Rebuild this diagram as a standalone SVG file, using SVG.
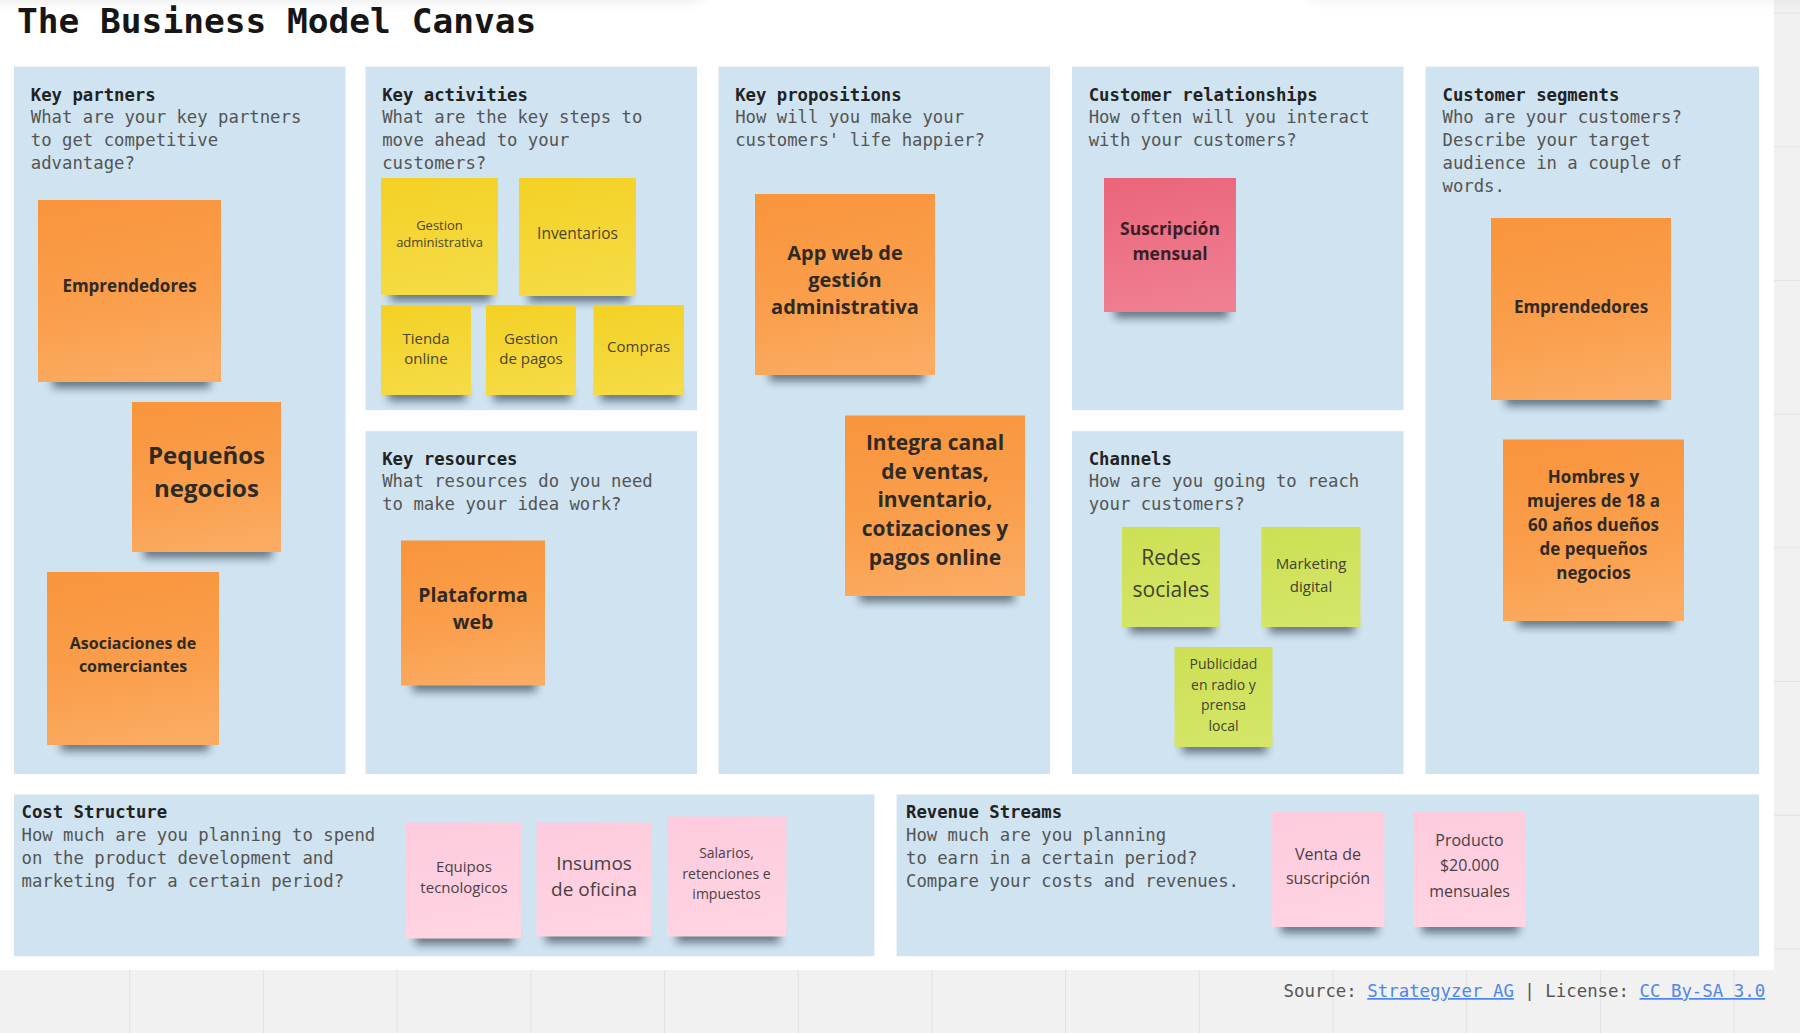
<svg xmlns="http://www.w3.org/2000/svg" width="1800" height="1033" viewBox="0 0 1800 1033">
<defs>
<style>
.panel{fill:#cfe3f0}
.h{font-family:"DejaVu Sans Mono","Liberation Mono",monospace;font-size:17.3px;font-weight:700;fill:#222}
.d{font-family:"DejaVu Sans Mono","Liberation Mono",monospace;font-size:17.3px;fill:#555}
.n{font-family:"Open Sans","Noto Sans",sans-serif;text-anchor:middle}
.b{font-weight:700}
.shd{fill:#0d1b2a;opacity:.55;filter:url(#blr)}
.grid{stroke:#e1e1e1;stroke-width:1}
.on{fill:#2e2a25}
.yn{fill:#4a4630}
.gn{fill:#3f4430}
.pn{fill:#4a4044}
</style>
<filter id="blr" x="-20%" y="-100%" width="140%" height="300%"><feGaussianBlur stdDeviation="4"/></filter>
<filter id="blr8" x="-20%" y="-100%" width="140%" height="300%"><feGaussianBlur stdDeviation="8"/></filter>
<linearGradient id="gO" x1="0.3" y1="0" x2="0.5" y2="1"><stop offset="0" stop-color="#f9953d"/><stop offset="0.6" stop-color="#fa9f4d"/><stop offset="1" stop-color="#fbab62"/></linearGradient>
<linearGradient id="gY" x1="0.3" y1="0" x2="0.5" y2="1"><stop offset="0" stop-color="#f3d126"/><stop offset="1" stop-color="#f5db45"/></linearGradient>
<linearGradient id="gR" x1="0.3" y1="0" x2="0.5" y2="1"><stop offset="0" stop-color="#ea667b"/><stop offset="1" stop-color="#f07f92"/></linearGradient>
<linearGradient id="gP" x1="0.3" y1="0" x2="0.5" y2="1"><stop offset="0" stop-color="#fdcbdd"/><stop offset="1" stop-color="#ffd4e3"/></linearGradient>
<linearGradient id="gG" x1="0.3" y1="0" x2="0.5" y2="1"><stop offset="0" stop-color="#cde055"/><stop offset="1" stop-color="#d5e568"/></linearGradient>
</defs>

<g id="background">
<rect x="0" y="0" width="1800" height="1033" fill="#f1f1f1"/>
<g class="grid">
<line x1="129.7" y1="0" x2="129.7" y2="1033"/><line x1="263.4" y1="0" x2="263.4" y2="1033"/><line x1="397.1" y1="0" x2="397.1" y2="1033"/><line x1="530.8" y1="0" x2="530.8" y2="1033"/><line x1="664.5" y1="0" x2="664.5" y2="1033"/><line x1="798.2" y1="0" x2="798.2" y2="1033"/><line x1="931.9" y1="0" x2="931.9" y2="1033"/><line x1="1065.6" y1="0" x2="1065.6" y2="1033"/><line x1="1199.3" y1="0" x2="1199.3" y2="1033"/><line x1="1333" y1="0" x2="1333" y2="1033"/><line x1="1466.7" y1="0" x2="1466.7" y2="1033"/><line x1="1600.4" y1="0" x2="1600.4" y2="1033"/><line x1="1734.1" y1="0" x2="1734.1" y2="1033"/>
<line x1="0" y1="13" x2="1800" y2="13"/><line x1="0" y1="146.7" x2="1800" y2="146.7"/><line x1="0" y1="280.4" x2="1800" y2="280.4"/><line x1="0" y1="414.1" x2="1800" y2="414.1"/><line x1="0" y1="547.8" x2="1800" y2="547.8"/><line x1="0" y1="681.5" x2="1800" y2="681.5"/><line x1="0" y1="815.2" x2="1800" y2="815.2"/><line x1="0" y1="948.9" x2="1800" y2="948.9"/>
</g>
<rect x="0" y="0" width="1774" height="970" fill="#ffffff"/>
<rect x="-40" y="-52" width="745" height="50" rx="14" fill="#000" opacity=".13" filter="url(#blr8)"/>
<rect x="1305" y="-52" width="540" height="48" rx="14" fill="#000" opacity=".12" filter="url(#blr8)"/>
</g>

<text id="title" x="17" y="33" font-family="DejaVu Sans Mono, Liberation Mono, monospace" font-size="34.5" font-weight="700" fill="#161616">The Business Model Canvas</text>

<g id="key-partners">
<rect class="panel" x="14" y="66.6" width="331.5" height="707.4"/>
<text class="h" x="30.8" y="100.7">Key partners</text>
<text class="d"><tspan x="30.8" y="123">What are your key partners</tspan><tspan x="30.8" y="146">to get competitive</tspan><tspan x="30.8" y="169">advantage?</tspan></text>
</g>
<g id="key-activities">
<rect class="panel" x="365.5" y="66.6" width="331.5" height="343.6"/>
<text class="h" x="382.2" y="100.7">Key activities</text>
<text class="d"><tspan x="382.2" y="123">What are the key steps to</tspan><tspan x="382.2" y="146">move ahead to your</tspan><tspan x="382.2" y="169">customers?</tspan></text>
</g>
<g id="key-resources">
<rect class="panel" x="365.5" y="431.2" width="331.5" height="342.8"/>
<text class="h" x="382.2" y="464.5">Key resources</text>
<text class="d"><tspan x="382.2" y="487">What resources do you need</tspan><tspan x="382.2" y="510">to make your idea work?</tspan></text>
</g>
<g id="key-propositions">
<rect class="panel" x="718.5" y="66.6" width="331.5" height="707.4"/>
<text class="h" x="735.2" y="100.7">Key propositions</text>
<text class="d"><tspan x="735.2" y="123">How will you make your</tspan><tspan x="735.2" y="146">customers' life happier?</tspan></text>
</g>
<g id="customer-relationships">
<rect class="panel" x="1072" y="66.6" width="331.5" height="343.6"/>
<text class="h" x="1088.7" y="100.7">Customer relationships</text>
<text class="d"><tspan x="1088.7" y="123">How often will you interact</tspan><tspan x="1088.7" y="146">with your customers?</tspan></text>
</g>
<g id="channels">
<rect class="panel" x="1072" y="431.2" width="331.5" height="342.8"/>
<text class="h" x="1088.7" y="464.5">Channels</text>
<text class="d"><tspan x="1088.7" y="487">How are you going to reach</tspan><tspan x="1088.7" y="510">your customers?</tspan></text>
</g>
<g id="customer-segments">
<rect class="panel" x="1425.5" y="66.6" width="333.5" height="707.4"/>
<text class="h" x="1442.5" y="100.7">Customer segments</text>
<text class="d"><tspan x="1442.5" y="123">Who are your customers?</tspan><tspan x="1442.5" y="146">Describe your target</tspan><tspan x="1442.5" y="169">audience in a couple of</tspan><tspan x="1442.5" y="192">words.</tspan></text>
</g>
<g id="cost-structure">
<rect class="panel" x="14" y="794.5" width="860.5" height="161.7"/>
<text class="h" x="21.5" y="817.5">Cost Structure</text>
<text class="d"><tspan x="21.5" y="840.5">How much are you planning to spend</tspan><tspan x="21.5" y="863.5">on the product development and</tspan><tspan x="21.5" y="886.5">marketing for a certain period?</tspan></text>
</g>
<g id="revenue-streams">
<rect class="panel" x="896.6" y="794.5" width="862.4" height="161.7"/>
<text class="h" x="906" y="817.5">Revenue Streams</text>
<text class="d"><tspan x="906" y="840.5">How much are you planning</tspan><tspan x="906" y="863.5">to earn in a certain period?</tspan><tspan x="906" y="886.5">Compare your costs and revenues.</tspan></text>
</g>

<g id="note-kp-emprendedores">
<rect class="shd" x="52.6" y="374" width="157.4" height="14"/>
<rect x="38" y="200" width="183" height="182" fill="url(#gO)"/>
<text class="n b on" font-size="17" x="129.5" y="292">Emprendedores</text>
</g>
<g id="note-pequenos-negocios">
<rect class="shd" x="143.9" y="544" width="128.1" height="14"/>
<rect x="132" y="402" width="149" height="150" fill="url(#gO)"/>
<text class="n b on" font-size="24"><tspan x="206.5" y="463.5">Pequeños</tspan><tspan x="206.5" y="496.5">negocios</tspan></text>
</g>
<g id="note-asociaciones">
<rect class="shd" x="60.8" y="737" width="147.9" height="14"/>
<rect x="47" y="572" width="172" height="173" fill="url(#gO)"/>
<text class="n b on" font-size="16"><tspan x="133" y="648.5">Asociaciones de</tspan><tspan x="133" y="671.5">comerciantes</tspan></text>
</g>

<g id="note-gestion-administrativa">
<rect class="shd" x="390.4" y="287" width="100.6" height="14"/>
<rect x="381" y="178" width="117" height="117" fill="url(#gY)"/>
<text class="n yn" font-size="13"><tspan x="439.5" y="230">Gestion</tspan><tspan x="439.5" y="247">administrativa</tspan></text>
</g>
<g id="note-inventarios">
<rect class="shd" x="528.4" y="288" width="100.6" height="14"/>
<rect x="519" y="178" width="117" height="118" fill="url(#gY)"/>
<text class="n yn" font-size="15.5" x="577.5" y="239">Inventarios</text>
</g>
<g id="note-tienda-online">
<rect class="shd" x="388.2" y="387" width="77.4" height="14"/>
<rect x="381" y="305" width="90" height="90" fill="url(#gY)"/>
<text class="n yn" font-size="15"><tspan x="426" y="343.5">Tienda</tspan><tspan x="426" y="364">online</tspan></text>
</g>
<g id="note-gestion-pagos">
<rect class="shd" x="493.2" y="387" width="77.4" height="14"/>
<rect x="486" y="305" width="90" height="90" fill="url(#gY)"/>
<text class="n yn" font-size="15"><tspan x="531" y="343.5">Gestion</tspan><tspan x="531" y="364">de pagos</tspan></text>
</g>
<g id="note-compras">
<rect class="shd" x="600.7" y="387" width="77.8" height="14"/>
<rect x="593.5" y="305" width="90.5" height="90" fill="url(#gY)"/>
<text class="n yn" font-size="15" x="638.7" y="352">Compras</text>
</g>

<g id="note-plataforma-web">
<rect class="shd" x="412.5" y="677.5" width="123.8" height="14"/>
<rect x="401" y="540.5" width="144" height="145" fill="url(#gO)"/>
<text class="n b on" font-size="19.5"><tspan x="473" y="601.5">Plataforma</tspan><tspan x="473" y="628.5">web</tspan></text>
</g>

<g id="note-app-web">
<rect class="shd" x="769.4" y="367" width="154.8" height="14"/>
<rect x="755" y="194" width="180" height="181" fill="url(#gO)"/>
<text class="n b on" font-size="20"><tspan x="845" y="259.5">App web de</tspan><tspan x="845" y="286.5">gestión</tspan><tspan x="845" y="314">administrativa</tspan></text>
</g>
<g id="note-integra-canal">
<rect class="shd" x="859.4" y="588" width="154.8" height="14"/>
<rect x="845" y="415.5" width="180" height="180.5" fill="url(#gO)"/>
<text class="n b on" font-size="21"><tspan x="935" y="450">Integra canal</tspan><tspan x="935" y="478.5">de ventas,</tspan><tspan x="935" y="507">inventario,</tspan><tspan x="935" y="535.5">cotizaciones y</tspan><tspan x="935" y="564.5">pagos online</tspan></text>
</g>

<g id="note-suscripcion-mensual">
<rect class="shd" x="1114.6" y="304" width="113.5" height="14"/>
<rect x="1104" y="178" width="132" height="134" fill="url(#gR)"/>
<text class="n b" font-size="17.5" fill="#3a1f25"><tspan x="1170" y="235">Suscripción</tspan><tspan x="1170" y="260">mensual</tspan></text>
</g>

<g id="note-redes-sociales">
<rect class="shd" x="1129.8" y="619" width="84.3" height="14"/>
<rect x="1122" y="527" width="98" height="100" fill="url(#gG)"/>
<text class="n gn" font-size="21"><tspan x="1171" y="565">Redes</tspan><tspan x="1171" y="596.5">sociales</tspan></text>
</g>
<g id="note-marketing-digital">
<rect class="shd" x="1269.4" y="619" width="85.1" height="14"/>
<rect x="1261.5" y="527" width="99" height="100" fill="url(#gG)"/>
<text class="n gn" font-size="15"><tspan x="1311" y="569">Marketing</tspan><tspan x="1311" y="591.5">digital</tspan></text>
</g>
<g id="note-publicidad">
<rect class="shd" x="1182.3" y="739" width="84.3" height="14"/>
<rect x="1174.5" y="647" width="98" height="100" fill="url(#gG)"/>
<text class="n gn" font-size="14"><tspan x="1223.5" y="668.5">Publicidad</tspan><tspan x="1223.5" y="689.5">en radio y</tspan><tspan x="1223.5" y="710">prensa</tspan><tspan x="1223.5" y="730.5">local</tspan></text>
</g>

<g id="note-cs-emprendedores">
<rect class="shd" x="1505.4" y="392" width="154.8" height="14"/>
<rect x="1491" y="218" width="180" height="182" fill="url(#gO)"/>
<text class="n b on" font-size="17" x="1581" y="313">Emprendedores</text>
</g>
<g id="note-hombres-mujeres">
<rect class="shd" x="1517.5" y="613" width="155.7" height="14"/>
<rect x="1503" y="439.5" width="181" height="181.5" fill="url(#gO)"/>
<text class="n b on" font-size="17"><tspan x="1593.5" y="483">Hombres y</tspan><tspan x="1593.5" y="507">mujeres de 18 a</tspan><tspan x="1593.5" y="531">60 años dueños</tspan><tspan x="1593.5" y="555">de pequeños</tspan><tspan x="1593.5" y="579">negocios</tspan></text>
</g>

<g id="note-equipos">
<rect class="shd" x="415.2" y="930.5" width="98.9" height="14"/>
<rect x="406" y="822.5" width="115" height="116" fill="url(#gP)"/>
<text class="n pn" font-size="15"><tspan x="464" y="871.5">Equipos</tspan><tspan x="464" y="893">tecnologicos</tspan></text>
</g>
<g id="note-insumos">
<rect class="shd" x="545.7" y="928.5" width="98.9" height="14"/>
<rect x="536.5" y="822.5" width="115" height="114" fill="url(#gP)"/>
<text class="n pn" font-size="19"><tspan x="594" y="869.5">Insumos</tspan><tspan x="594" y="896">de oficina</tspan></text>
</g>
<g id="note-salarios">
<rect class="shd" x="676.6" y="928.5" width="102.8" height="14"/>
<rect x="667" y="816.5" width="119.5" height="120" fill="url(#gP)"/>
<text class="n pn" font-size="14"><tspan x="726.5" y="857.5">Salarios,</tspan><tspan x="726.5" y="878.5">retenciones e</tspan><tspan x="726.5" y="898.5">impuestos</tspan></text>
</g>
<g id="note-venta-suscripcion">
<rect class="shd" x="1281" y="919" width="96.8" height="14"/>
<rect x="1272" y="812" width="112.5" height="115" fill="url(#gP)"/>
<text class="n pn" font-size="16"><tspan x="1328" y="859.5">Venta de</tspan><tspan x="1328" y="884">suscripción</tspan></text>
</g>
<g id="note-producto">
<rect class="shd" x="1422" y="919" width="96.8" height="14"/>
<rect x="1413" y="812" width="112.5" height="115" fill="url(#gP)"/>
<text class="n pn" font-size="16"><tspan x="1469.5" y="846">Producto</tspan><tspan x="1469.5" y="871">$20.000</tspan><tspan x="1469.5" y="897">mensuales</tspan></text>
</g>

<text id="source" x="1283.5" y="997" font-family="DejaVu Sans Mono, Liberation Mono, monospace" font-size="17.4" fill="#555">Source: <tspan fill="#4f86ee" text-decoration="underline">Strategyzer AG</tspan> | License: <tspan fill="#4f86ee" text-decoration="underline">CC By-SA 3.0</tspan></text>
</svg>
